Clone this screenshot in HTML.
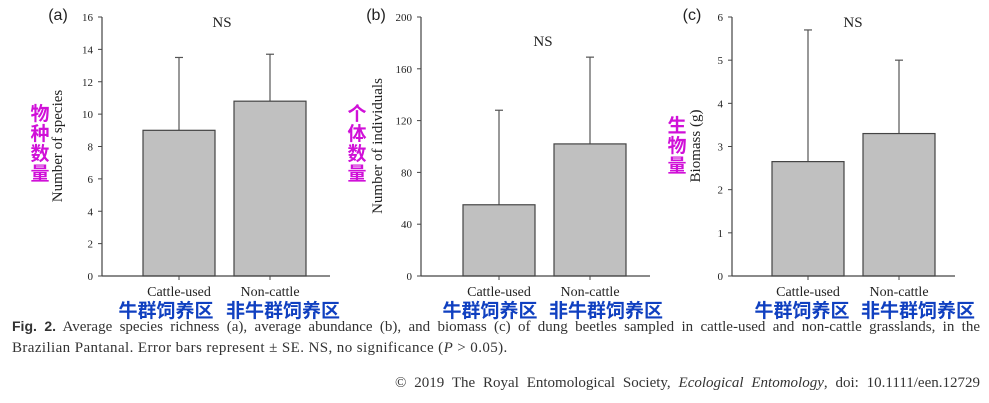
<!DOCTYPE html>
<html><head><meta charset="utf-8"><style>
body{margin:0;background:#fff;width:989px;height:403px;overflow:hidden}
svg{display:block}
.t{font-family:"Liberation Serif",serif;fill:#222}
.cn{font-family:"Liberation Sans","Noto Sans CJK SC",sans-serif;font-weight:bold}
.j{text-align:justify;text-align-last:justify;white-space:nowrap}
</style></head><body>
<svg id="fig" width="989" height="403"></svg>
<script>
const categories=["Cattle-used","Non-cattle"];
const cnCategories=["牛群饲养区","非牛群饲养区"];
const panelLetters=["(a)","(b)","(c)"];
const yTitles=["Number of species","Number of individuals","Biomass (g)"];
const cnTitles=["物种数量","个体数量","生物量"];
const meansA=[9,10.8];
const errTopA=[13.5,13.7];
const meansB=[55,102];
const errTopB=[128,169];
const meansC=[2.65,3.3];
const errTopC=[5.7,5.0];
const ticksA=[0,2,4,6,8,10,12,14,16];
const ticksB=[0,40,80,120,160,200];
const ticksC=[0,1,2,3,4,5,6];
const panels=[
 {ax:102,xEnd:330,bars:[143,234],bw:72,means:meansA,errs:errTopA,ticks:ticksA,lab:57,cn:40,let:58,ns:222,cnx:[166,283]},
 {ax:421,xEnd:650,bars:[463,554],bw:72,means:meansB,errs:errTopB,ticks:ticksB,lab:377,cn:357,let:376,ns:543,cnx:[490,606]},
 {ax:732,xEnd:955,bars:[772,863],bw:72,means:meansC,errs:errTopC,ticks:ticksC,lab:695,cn:677,let:692,ns:853,cnx:[802,918]}
];
const NS="http://www.w3.org/2000/svg";
const svg=document.getElementById('fig');
function mk(tag,attrs,parent){const e=document.createElementNS(NS,tag);for(const k in attrs)e.setAttribute(k,attrs[k]);(parent||svg).appendChild(e);return e;}
const y0=276,y1=17;
panels.forEach((p,i)=>{
 const g=mk('g',{});
 
 
 const max=p.ticks[p.ticks.length-1];
 const Y=v=>y0-(v/max)*(y0-y1);
 p.means.forEach((m,j)=>{
  const x=p.bars[j];
  const cx=x+p.bw/2;
  const el=mk('line',{x1:cx,x2:cx,y1:Y(p.errs[j]),y2:Y(m),stroke:'#555','stroke-width':1.2},g);
  
  
  const cap=mk('line',{x1:cx-4,x2:cx+4,y1:Y(p.errs[j]),y2:Y(p.errs[j]),stroke:'#555','stroke-width':1.2},g);
  
  
  const r=mk('rect',{x:x,y:Y(m),width:p.bw,height:y0-Y(m),fill:'#c0c0c0',stroke:'#444','stroke-width':1.2},g);
  
  
  const tk=mk('line',{x1:cx,x2:cx,y1:y0,y2:y0+4,stroke:'#444'},g);
  
  
  const t=mk('text',{x:cx,y:296,'text-anchor':'middle','font-size':14,class:'t'},g);
  t.textContent=categories[j];
  
  
  const c=mk('text',{x:p.cnx[j],y:317,'text-anchor':'middle','font-size':19,class:'cn',fill:'#1040c0'},g);
  c.textContent=cnCategories[j];
  
  
 });
 const ya=mk('line',{x1:p.ax,x2:p.ax,y1:y1,y2:y0,stroke:'#444','stroke-width':1.2},g);
 
 
 const xa=mk('line',{x1:p.ax,x2:p.xEnd,y1:y0,y2:y0,stroke:'#444','stroke-width':1.2},g);
 
 
 p.ticks.forEach(v=>{
  const tl=mk('line',{x1:p.ax-4,x2:p.ax,y1:Y(v),y2:Y(v),stroke:'#444'},g);
  
  
  const tt=mk('text',{x:p.ax-9,y:Y(v)+4,'text-anchor':'end','font-size':11,class:'t'},g);
  tt.textContent=v;
  
  
 });
 const yt=mk('text',{x:0,y:0,transform:`translate(${p.lab+5},146) rotate(-90)`,'text-anchor':'middle','font-size':15,class:'t'},g);
 yt.textContent=yTitles[i];
 
 
 const n=cnTitles[i].length;
 const cg=mk('text',{'font-size':19,class:'cn',fill:'#d010d8','text-anchor':'middle'},g);
 
 
 for(let k=0;k<n;k++){const ts=mk('tspan',{x:p.cn,y:120+k*20+(i==2?12:0)},cg);ts.textContent=cnTitles[i][k];}
 const lt=mk('text',{x:p.let,y:20,'text-anchor':'middle','font-size':16,'font-family':'Liberation Sans, sans-serif',fill:'#222'},g);
 lt.textContent=panelLetters[i];
 
 
 const ns=mk('text',{x:p.ns,y:i==1?46:27,'text-anchor':'middle','font-size':15,class:'t'},g);
 ns.textContent='NS';
 
 
});
</script>
<div style="position:absolute;left:12px;top:316px;width:968px;font-family:'Liberation Serif',serif;font-size:15px;line-height:21px;color:#333">
<div class="j"><b style="font-family:'Liberation Sans',sans-serif;font-size:14px">Fig. 2.</b> Average species richness (a), average abundance (b), and biomass (c) of dung beetles sampled in cattle-used and non-cattle grasslands, in the</div>
<div style="white-space:nowrap;letter-spacing:0.4px">Brazilian Pantanal. Error bars represent ± SE. NS, no significance (<i>P</i> &gt; 0.05).</div></div>
<div class="j" style="position:absolute;left:395px;width:585px;top:375px;font-family:'Liberation Serif',serif;font-size:15px;color:#333">© 2019 The Royal Entomological Society, <i>Ecological Entomology</i>, doi: 10.1111/een.12729</div>
</body></html>
